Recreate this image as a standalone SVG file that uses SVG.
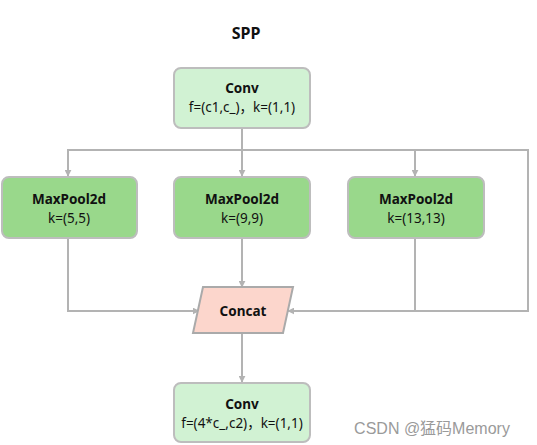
<svg xmlns="http://www.w3.org/2000/svg" width="537" height="445" viewBox="0 0 537 445">
<defs>
<style>
.t{font-family:"Noto Sans","Noto Sans CJK SC",sans-serif;font-size:13.5px;fill:#111;text-anchor:middle}
.b{font-weight:bold}
.conv{fill:#d1f2d3;stroke:#bdbdbd;stroke-width:2}
.mp{fill:#99d88b;stroke:#bdbdbd;stroke-width:2}
.cc{fill:#fcd6cc;stroke:#aaa;stroke-width:2}
.ln{fill:none;stroke:#b3b3b3;stroke-width:2}
</style>
<marker id="ar" viewBox="0 0 10 10" refX="9" refY="5" markerWidth="7" markerHeight="7" orient="auto" markerUnits="userSpaceOnUse">
<path d="M0,0 L10,5 L0,10 z" fill="#b3b3b3"/>
</marker>
</defs>
<rect width="537" height="445" fill="#fff"/>
<text x="246" y="39" class="t b" style="font-size:16px">SPP</text>
<g id="connectors">
<path class="ln" d="M242,128 V150"/>
<path class="ln" d="M68,177 V150 H528 V311 H288" marker-end="url(#ar)"/>
<path class="ln" d="M242,150 V176" marker-end="url(#ar)"/>
<path class="ln" d="M68,150 V176" marker-end="url(#ar)"/>
<path class="ln" d="M415,150 V176" marker-end="url(#ar)"/>
<path class="ln" d="M68,238 V311 H199" marker-end="url(#ar)"/>
<path class="ln" d="M242,238 V287" marker-end="url(#ar)"/>
<path class="ln" d="M415,238 V311"/>
<path class="ln" d="M242,333 V382" marker-end="url(#ar)"/>
</g>
<g id="conv1">
<rect class="conv" x="174" y="68" width="136" height="60" rx="7"/>
<text x="242" y="93" class="t b">Conv</text>
<text x="242" y="112" class="t">f=(c1,c_)，k=(1,1)</text>
</g>
<g id="mp1">
<rect class="mp" x="2" y="177" width="135" height="61" rx="7"/>
<text x="69" y="204" class="t b">MaxPool2d</text>
<text x="69" y="223" class="t">k=(5,5)</text>
</g>
<g id="mp2">
<rect class="mp" x="174" y="177" width="136" height="61" rx="7"/>
<text x="242" y="204" class="t b">MaxPool2d</text>
<text x="242" y="223" class="t">k=(9,9)</text>
</g>
<g id="mp3">
<rect class="mp" x="348" y="177" width="136" height="61" rx="7"/>
<text x="416" y="204" class="t b">MaxPool2d</text>
<text x="416" y="223" class="t">k=(13,13)</text>
</g>
<g id="concat">
<polygon class="cc" points="203,287 293,287 283,333 193,333"/>
<text x="243" y="316" class="t b">Concat</text>
</g>
<g id="conv2">
<rect class="conv" x="174" y="383" width="136" height="59" rx="7"/>
<text x="242" y="409" class="t b">Conv</text>
<text x="242" y="428" class="t">f=(4*c_,c2)，k=(1,1)</text>
</g>
<text x="432" y="434" style="font-family:'Liberation Sans','Noto Sans CJK SC',sans-serif;font-size:16px;fill:#9a9a9a;text-anchor:middle">CSDN @猛码Memory</text>
</svg>
